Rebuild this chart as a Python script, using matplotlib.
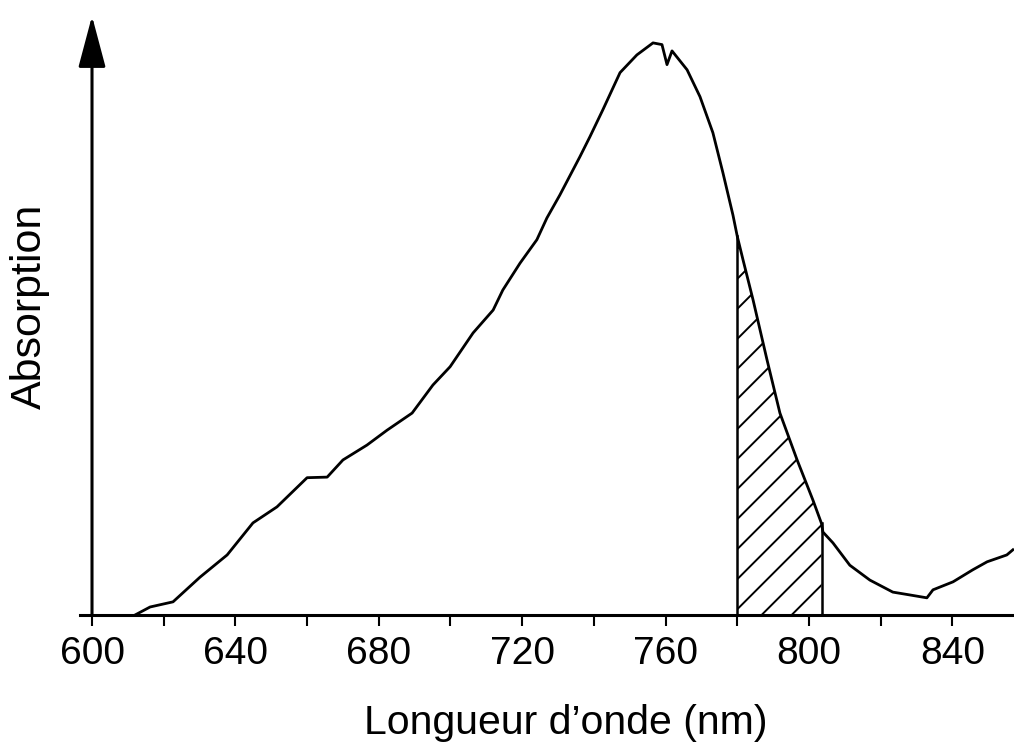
import matplotlib.pyplot as plt
import numpy as np
from matplotlib.ticker import FixedLocator

# Absorption spectrum (arbitrary units, peak normalised to 1)
wavelength = [
    612.0, 616.2, 622.6, 630.1, 637.7, 644.9, 651.6, 660.0, 665.6, 670.0,
    676.7, 682.3, 689.3, 695.1, 699.9, 706.3, 711.9, 714.6, 719.4, 724.1,
    726.9, 730.5, 736.1, 738.9, 742.5, 747.3, 752.0, 756.5, 759.0, 760.4,
    761.8, 766.0, 769.6, 773.2, 776.0, 778.8, 780.0, 781.6, 784.4, 788.3,
    791.9, 796.7, 801.1, 803.5, 803.9, 806.7, 811.4, 817.0, 823.4, 828.2,
    832.9, 834.6, 840.2, 845.7, 849.7, 855.2, 856.9,
]
absorption = [
    0.000, 0.014, 0.023, 0.066, 0.105, 0.161, 0.189, 0.240, 0.241, 0.271,
    0.297, 0.323, 0.353, 0.402, 0.434, 0.493, 0.533, 0.568, 0.615, 0.656,
    0.694, 0.734, 0.801, 0.836, 0.883, 0.948, 0.979, 1.000, 0.997, 0.962,
    0.986, 0.953, 0.906, 0.843, 0.773, 0.699, 0.662, 0.621, 0.551, 0.446,
    0.353, 0.271, 0.201, 0.160, 0.145, 0.126, 0.087, 0.061, 0.040, 0.035,
    0.030, 0.044, 0.058, 0.079, 0.093, 0.105, 0.114,
]
band_start, band_end = 780.0, 803.5

major_ticks = [600, 640, 680, 720, 760, 800, 840]
minor_ticks = [620, 660, 700, 740, 780, 820]

plt.rcParams["font.family"] = ["Liberation Sans", "DejaVu Sans"]

wl = np.array(wavelength)
ab = np.array(absorption)

fig = plt.figure(figsize=(10.14, 7.43), dpi=100)
ax = fig.add_axes([80 / 1014, 128 / 743, 934 / 1014, 599 / 743])
ax.set_xlim(596.65, 857.2)
ax.set_ylim(0, 1.047)

ax.plot(wl, ab, color="black", linewidth=2.0, solid_joinstyle="round")

# hatched band under the curve
mask = (wl >= band_start) & (wl <= band_end)
band = ax.fill_between(wl, 0, ab, where=mask, facecolor="none", edgecolor="none")
clip_path = band.get_paths()[0]
slope = 3.585 / 572.0
for c in np.arange(-0.20, 0.75, 0.0525):
    xs = np.array([band_start - 5, band_end + 5])
    ln, = ax.plot(xs, c + slope * (xs - band_start), color="black", linewidth=1.4)
    ln.set_clip_path(clip_path, ax.transData)
for x in (band_start, band_end):
    ax.plot([x, x], [0, ab[wl == x][0]], color="black", linewidth=1.8)

# axes styling: bottom spine plus an arrow for the y axis
for side in ("top", "right", "left"):
    ax.spines[side].set_visible(False)
ax.spines["bottom"].set_linewidth(2.2)
ax.annotate(
    "", xy=(600, 1.047), xytext=(600, 0), xycoords="data",
    arrowprops=dict(arrowstyle="-|>,head_length=3.2,head_width=0.85",
                    mutation_scale=10, color="black", lw=2.2,
                    shrinkA=0, shrinkB=0),
    annotation_clip=False,
)

ax.xaxis.set_major_locator(FixedLocator(major_ticks))
ax.xaxis.set_minor_locator(FixedLocator(minor_ticks))
ax.tick_params(axis="x", which="both", direction="out", length=8, width=1.5, pad=7)
ax.tick_params(axis="x", which="major", labelsize=28)
ax.set_yticks([])

fig.text(566 / 1014, 9 / 743, "Longueur d\u2019onde (nm)", ha="center", va="baseline", fontsize=29.5)
fig.text(30 / 1014, 1 - 306 / 743, "Absorption", ha="center", va="center",
         rotation=90, fontsize=31)

fig.savefig("out.png", dpi=100)
